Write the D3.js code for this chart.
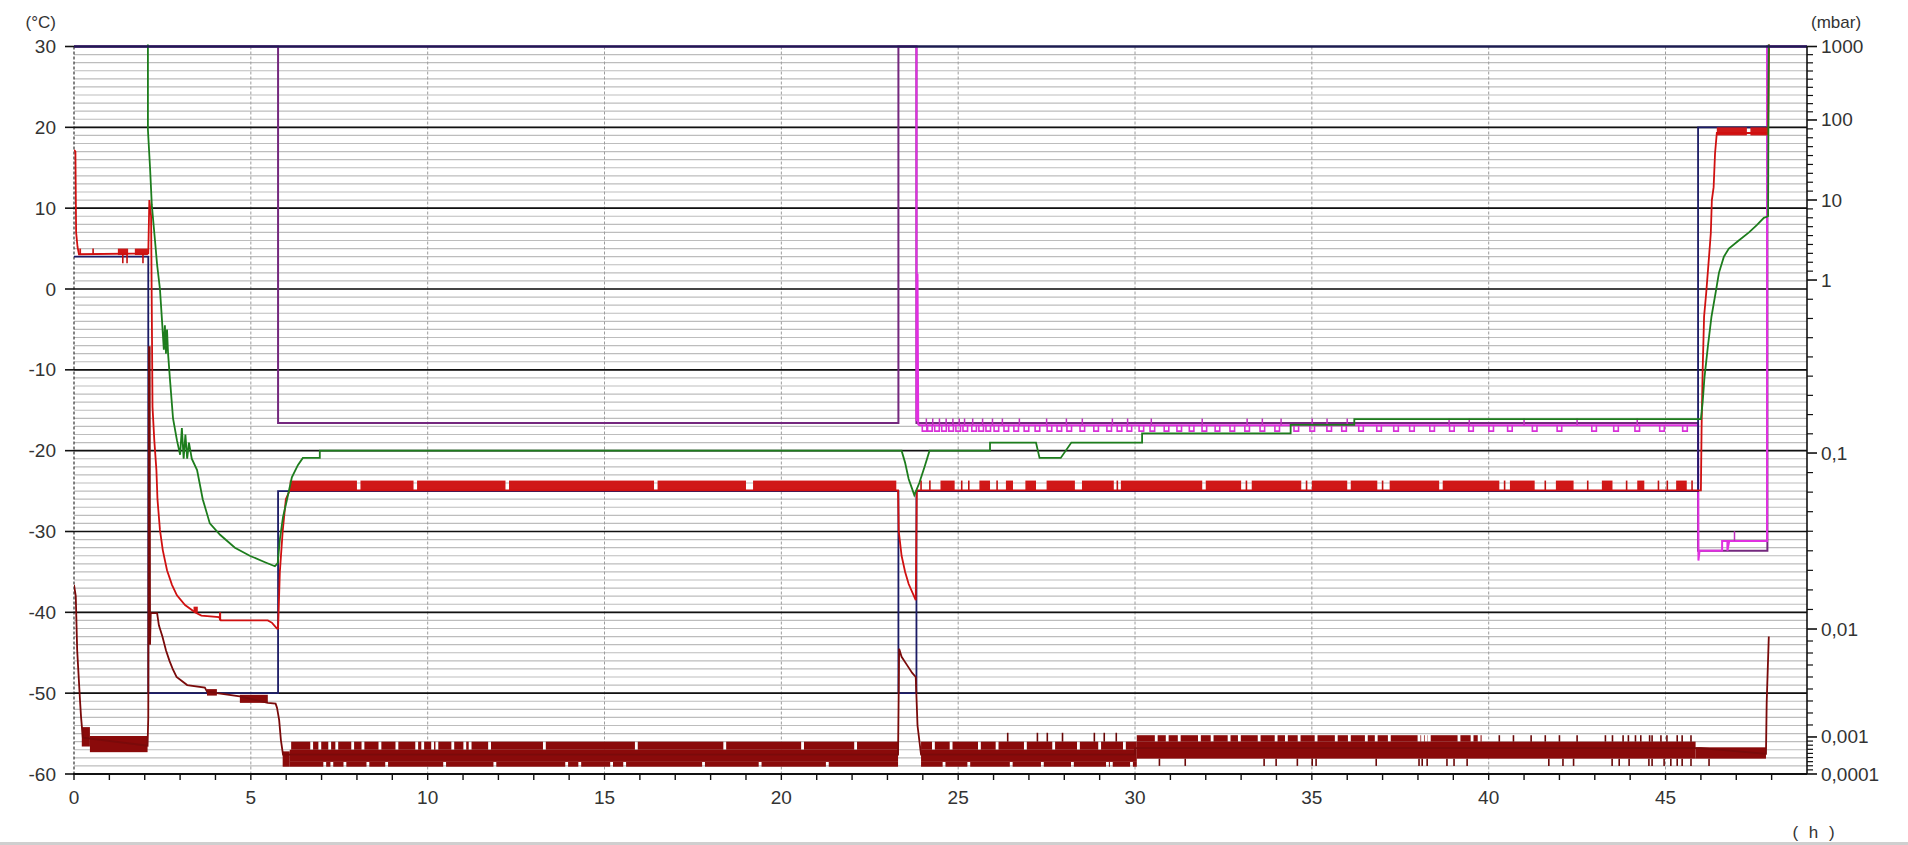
<!DOCTYPE html>
<html>
<head>
<meta charset="utf-8">
<script src="https://cdn.jsdelivr.net/npm/d3@7"></script>
<style>
  body { margin: 0; background: #ffffff; }
  svg { display: block; }
  text { font-family: "Liberation Sans", Arial, sans-serif; fill: #333; }
</style>
</head>
<body>
<svg id="chart" width="1908" height="845"></svg>
<script>
// ---------- axes ----------
const hourDomain = [0, 49];
const hourTicks = d3.range(0, 49);               // minor tick every hour
const hourLabels = [0, 5, 10, 15, 20, 25, 30, 35, 40, 45];
const tempDomain = [-60, 30];
const tempLabels = [30, 20, 10, 0, -10, -20, -30, -40, -50, -60];
const pressureDecades = [0.0001, 0.001, 0.01, 0.1, 1, 10, 100, 1000];
const pressureLabels = ["0,0001", "0,001", "0,01", "0,1", "1", "10", "100", "1000"];

// ---------- shelf temperature setpoint (°C) ----------
const shelfSetpoint = [
  [0, 4], [2.1, 4], [2.1, -50], [5.77, -50], [5.77, -25], [23.31, -25], [23.31, -50],
  [23.82, -50], [23.82, -25], [45.92, -25], [45.92, 20], [47.92, 20]
];

// ---------- shelf temperature (°C) ----------
const shelfTemp = [
  [0, 17.2], [0.04, 17], [0.06, 7], [0.1, 5.2], [0.14, 4.3], [2.1, 4.4], [2.13, 11], [2.18, 9],
  [2.22, -14.6], [2.27, -18.7], [2.33, -22.4], [2.36, -26], [2.43, -29.8], [2.51, -32.3],
  [2.63, -34.8], [2.77, -36.6], [2.91, -37.9], [3.14, -39.1], [3.42, -40], [3.6, -40.4],
  [4.1, -40.6], [4.15, -41], [5.48, -41], [5.6, -41.3], [5.74, -42], [5.77, -42], [5.82, -35],
  [5.9, -30], [5.99, -26], [6.1, -24.9], [23.3, -24.9], [23.32, -30], [23.4, -33], [23.5, -35],
  [23.6, -36.5], [23.75, -38], [23.8, -38.5], [23.83, -24.9], [46.0, -24.9], [46.02, -17],
  [46.05, -10], [46.09, -3.4], [46.15, -0.5], [46.23, 4], [46.28, 6.9], [46.31, 11],
  [46.36, 12.6], [46.4, 16.8], [46.45, 19.3], [47.9, 19.3], [47.93, 31]
];
// fast controller oscillation of the shelf temperature: [from h, to h, low °C, high °C]
const shelfNoise = [
  [0.15, 0.2, 4.2, 5.0], [1.24, 1.53, 4.2, 5.0], [1.72, 2.09, 4.2, 5.0], [3.38, 3.5, -40, -39.3],
  [4.1, 4.16, -41, -40],
  [6.1, 8.0, -24.9, -23.7], [8.1, 9.6, -24.9, -23.7], [9.7, 12.2, -24.9, -23.7],
  [12.3, 16.4, -24.9, -23.7], [16.5, 19.0, -24.9, -23.7], [19.2, 23.25, -24.9, -23.7],
  [24.5, 24.9, -24.9, -23.7], [25.6, 25.9, -24.9, -23.7], [26.35, 26.55, -24.9, -23.7],
  [26.9, 27.2, -24.9, -23.7], [27.5, 28.3, -24.9, -23.7], [28.5, 29.4, -24.9, -23.7],
  [29.6, 31.9, -24.9, -23.7], [32.0, 33.0, -24.9, -23.7], [33.3, 34.7, -24.9, -23.7],
  [35.0, 36.0, -24.9, -23.7], [36.1, 36.85, -24.9, -23.7], [37.2, 38.6, -24.9, -23.7],
  [38.7, 40.3, -24.9, -23.7], [40.6, 41.3, -24.9, -23.7], [41.9, 42.4, -24.9, -23.7],
  [43.2, 43.5, -24.9, -23.7], [44.2, 44.4, -24.9, -23.7], [45.3, 45.6, -24.9, -23.7],
  [46.45, 47.3, 19.0, 20.0], [47.4, 47.9, 19.0, 20.0]
];
// single oscillation spikes of the shelf temperature: [h, °C]
const shelfSpikes = [
  [0.54, 5.0], [1.38, 3.2], [1.5, 3.2], [1.95, 3.2], [23.95, -23.7], [24.2, -23.7],
  [25.1, -23.7], [25.3, -23.7], [26.1, -23.7], [29.5, -23.7], [33.15, -23.7], [34.85, -23.7],
  [37.0, -23.7], [40.45, -23.7], [41.6, -23.7], [42.8, -23.7], [43.9, -23.7], [44.8, -23.7],
  [45.05, -23.7], [45.75, -23.7]
];

// ---------- product temperature (°C) ----------
const productTemp = [
  [2.09, 34], [2.09, 19.7], [2.15, 15], [2.2, 10.4], [2.29, 6], [2.35, 3], [2.43, 0],
  [2.49, -4], [2.54, -7.5], [2.57, -4.5], [2.6, -8], [2.63, -5], [2.66, -8], [2.71, -11],
  [2.8, -16], [2.91, -18.7], [3.0, -20.5], [3.05, -17.2], [3.1, -21], [3.15, -18], [3.2, -21],
  [3.25, -19], [3.33, -21], [3.48, -22.4], [3.64, -26], [3.84, -29], [4.13, -30.4],
  [4.55, -32], [4.97, -33], [5.4, -33.8], [5.68, -34.3], [5.76, -33.9], [5.82, -31],
  [5.91, -28.2], [6.02, -26.1], [6.16, -23.3], [6.33, -21.8], [6.47, -20.9], [6.95, -20.9],
  [6.95, -20], [23.4, -20], [23.5, -21.5], [23.6, -23.5], [23.76, -25.5], [23.9, -24],
  [24.05, -22], [24.19, -20], [25.9, -20], [25.9, -19], [27.2, -19], [27.3, -20.9],
  [27.9, -20.9], [28.2, -19], [30.2, -19], [30.2, -17.85], [34.4, -17.85], [34.4, -16.8],
  [36.2, -16.8], [36.2, -16.1], [46.0, -16.1], [46.05, -14], [46.1, -11], [46.2, -7],
  [46.3, -3.4], [46.43, -0.1], [46.51, 2], [46.65, 4], [46.79, 5], [47.07, 6], [47.36, 7],
  [47.58, 7.9], [47.78, 8.8], [47.9, 9], [47.92, 35]
];

// ---------- ice condenser temperature (°C) ----------
const condenserTemp = [
  [0, -36.6], [0.05, -38], [0.09, -44.7], [0.17, -50.9], [0.2, -53], [0.25, -55.5],
  [2.08, -56.5], [2.1, -53], [2.12, -7.2], [2.14, -7.2], [2.15, -44], [2.17, -40.1],
  [2.35, -40.1], [2.4, -41.6], [2.5, -43], [2.6, -44.7], [2.7, -46], [2.8, -47.1], [2.9, -48],
  [3.2, -49], [3.7, -49.3], [3.76, -49.8], [4.04, -50], [4.69, -50.4], [5.48, -51.2],
  [5.7, -51.3], [5.74, -51.8], [5.8, -53.3], [5.85, -55.8], [5.91, -57.6], [23.3, -57.6],
  [23.33, -44.5], [23.4, -45.5], [23.55, -46.5], [23.7, -47.5], [23.8, -48], [23.85, -54],
  [23.95, -57.6], [30, -57.6], [30, -56.8], [46, -56.8], [47.84, -57.5], [47.86, -51.2],
  [47.92, -43]
];
// solid oscillation bands: [from h, to h, low °C, high °C]
const condenserBands = [
  [0.22, 0.45, -56.6, -54.2], [0.45, 2.08, -57.3, -55.3], [3.76, 4.04, -50.3, -49.5],
  [4.69, 5.48, -51.2, -50.2], [5.9, 6.1, -59.1, -57.2], [6.1, 23.3, -58.5, -57],
  [23.95, 30.05, -58.5, -57], [30.05, 45.85, -58.1, -56.0], [45.85, 47.84, -58.1, -56.7]
];
// outer layers of the band with the hours where the layer is broken
const condenserLayers = [
  { from: 6.1, to: 23.3, low: -57, high: -56,
    gaps: [6.1, 6.72, 6.95, 7.23, 7.43, 7.88, 8.17, 8.65, 9.13, 9.69, 9.86, 10.14, 10.26, 10.71, 11.05, 11.2, 11.75, 13.3, 15.9, 18.4, 20.6, 22.1] },
  { from: 6.1, to: 23.3, low: -59.1, high: -58.5,
    gaps: [7.09, 7.29, 7.66, 8.31, 8.84, 10.48, 11.9, 13.93, 14.3, 15.2, 15.57, 17.8, 19.4, 21.3] },
  { from: 23.95, to: 30.05, low: -57, high: -56,
    gaps: [24.3, 24.8, 25.6, 26.1, 26.9, 27.7, 28.4, 29.0, 29.7] },
  { from: 23.95, to: 30.05, low: -59.1, high: -58.5,
    gaps: [24.6, 25.3, 26.5, 27.38, 28.23, 29.22, 29.33, 29.9] },
  { from: 30.05, to: 39.8, low: -56, high: -55.2,
    gaps: [30.6, 30.91, 31.25, 31.82, 32.18, 32.66, 32.95, 33.51, 33.99, 34.28, 34.64, 35.12, 35.69, 36.06, 36.54, 36.82, 37.19, 38.03, 38.13, 38.23, 38.32, 39.16, 39.53, 39.73] }
];
// single spikes out of the band: [h, °C]
const condenserSpikes = [
  [26.4, -54.9], [27.24, -54.9], [27.52, -54.9], [27.95, -54.9], [28.85, -54.9], [29.13, -54.9], [29.47, -54.9],
  [30.69, -59], [31.42, -59], [33.65, -59], [33.99, -59], [34.59, -59], [35.01, -59], [35.12, -59],
  [36.82, -59], [38.03, -59], [38.12, -59], [38.26, -59], [38.82, -59], [39.02, -59], [39.39, -59],
  [40.3, -55.2], [40.7, -55.2], [41.2, -55.2], [41.6, -55.2], [42.0, -55.2], [42.5, -55.2], [43.3, -55.2], [43.5, -55.2],
  [43.8, -55.2], [43.95, -55.2], [44.15, -55.2], [44.3, -55.2], [44.55, -55.2], [44.62, -55.2],
  [44.87, -55.2], [45.04, -55.2], [45.33, -55.2], [45.47, -55.2], [45.72, -55.2],
  [41.7, -59], [42.1, -59], [42.4, -59], [43.49, -59], [43.69, -59], [43.97, -59], [44.53, -59], [44.62, -59],
  [44.96, -59], [45.15, -59], [45.33, -59], [45.47, -59], [45.72, -59], [46.23, -59]
];

// ---------- chamber pressure setpoint (mbar) ----------
const vacuumSetpoint = [
  [0, 1000], [5.77, 1000], [5.77, 0.256], [23.31, 0.256], [23.31, 1000], [23.82, 1000],
  [23.82, 0.256], [45.92, 0.256], [45.92, 0.05], [47.88, 0.05], [47.88, 1000], [49, 1000]
];

// ---------- chamber pressure, measured (mbar) ----------
const vacuum = [
  [0, 1000], [23.82, 1000], [23.82, 0.27], [23.84, 0.27], [23.85, 1.7], [23.87, 0.25],
  [23.9, 0.245], [45.92, 0.245], [45.93, 0.045], [45.96, 0.05], [46.6, 0.05], [46.6, 0.055],
  [46.75, 0.055], [46.75, 0.05], [46.8, 0.055], [47.87, 0.055], [47.87, 1000], [49, 1000]
];
// hours of the short pressure dips of the controller
const vacuumDips = [
  24.05, 24.2, 24.4, 24.6, 24.8, 25.0, 25.2, 25.45, 25.65, 25.85, 26.08, 26.36, 26.64, 26.93,
  27.24, 27.58, 27.86, 28.14, 28.51, 28.9, 29.27, 29.56, 29.84, 30.18, 30.49, 30.89, 31.25,
  31.6, 31.96, 32.33, 32.75, 33.17, 33.6, 34.02, 34.56, 35.01, 35.49, 35.91, 36.39, 36.9,
  37.38, 37.83, 38.4, 38.96, 39.5, 40.07, 40.6, 41.3, 42.0, 42.98, 43.6, 44.2, 44.9, 45.55
];
// hours of the short pressure peaks of the controller
const vacuumPeaks = [
  24.1, 24.28, 24.47, 24.66, 24.85, 25.03, 25.18, 25.41, 25.69, 25.97, 26.25, 26.73, 27.5,
  28.06, 28.51, 29.36, 29.79, 30.46, 31.9, 33.17, 33.6, 34.13, 35.01, 35.43, 36.0, 38.88,
  39.45, 41.0, 42.5, 44.2, 46.95
];
const vacuumBaseLevel = 0.245;
const vacuumDipLevel = 0.214;
const vacuumPeakLevel = 0.28;

// ---------- layout ----------
const W = 1908, H = 845;
const plotLeft = 74, plotRight = 1807, plotTop = 46.5, plotBottom = 774;
const svg = d3.select("#chart");

const x = d3.scaleLinear().domain(hourDomain).range([plotLeft, plotRight]);
const yT = d3.scaleLinear().domain(tempDomain).range([plotBottom, plotTop]);
// pressure axis: linear inside each decade, decades unevenly spaced
const decadeFrac = [1, 0.9491, 0.8007, 0.5588, 0.3210, 0.2110, 0.1010, 0];
const yP = d3.scaleLinear().domain(pressureDecades)
  .range(decadeFrac.map(f => plotTop + f * (plotBottom - plotTop)));

svg.append("defs").append("clipPath").attr("id", "plot")
  .append("rect").attr("x", plotLeft).attr("y", plotTop - 2)
  .attr("width", plotRight - plotLeft).attr("height", plotBottom - plotTop + 2);

// ---------- grid ----------
const grid = svg.append("g");
d3.range(-60, 31).forEach(t => {
  grid.append("line").attr("x1", plotLeft).attr("x2", plotRight).attr("y1", yT(t)).attr("y2", yT(t))
    .attr("stroke", "#bdbdbd").attr("stroke-width", 1.2);
});
hourLabels.filter(h => h > 0).forEach(h => {
  grid.append("line").attr("x1", x(h)).attr("x2", x(h)).attr("y1", plotTop).attr("y2", plotBottom)
    .attr("stroke", "#9c9c9c").attr("stroke-width", 1).attr("stroke-dasharray", "3,2");
});
grid.append("line").attr("x1", plotLeft).attr("x2", plotLeft).attr("y1", plotTop).attr("y2", plotBottom)
  .attr("stroke", "#333").attr("stroke-width", 1.2).attr("stroke-dasharray", "3,2");
tempLabels.filter(t => t > -60 && t < 30).forEach(t => {
  grid.append("line").attr("x1", plotLeft).attr("x2", plotRight).attr("y1", yT(t)).attr("y2", yT(t))
    .attr("stroke", "#111").attr("stroke-width", 1.7);
});

// ---------- marks ----------
const plot = svg.append("g").attr("clip-path", "url(#plot)");
const lineT = d3.line().x(d => x(d[0])).y(d => yT(d[1]));
const lineP = d3.line().x(d => x(d[0])).y(d => yP(d[1]));

function path(data, gen, color, width) {
  plot.append("path").datum(data).attr("d", gen).attr("fill", "none")
    .attr("stroke", color).attr("stroke-width", width).attr("stroke-linejoin", "miter");
}
function bands(list, color) {
  plot.selectAll(null).data(list).enter().append("rect")
    .attr("x", d => x(d[0])).attr("width", d => x(d[1]) - x(d[0]))
    .attr("y", d => yT(d[3])).attr("height", d => yT(d[2]) - yT(d[3]))
    .attr("fill", color);
}
function spikes(list, base, color) {
  plot.selectAll(null).data(list).enter().append("line")
    .attr("x1", d => x(d[0])).attr("x2", d => x(d[0]))
    .attr("y1", d => yT(base(d))).attr("y2", d => yT(d[1]))
    .attr("stroke", color).attr("stroke-width", 1.6);
}
function splitByGaps(from, to, gaps, width) {
  const segs = [];
  let start = from;
  gaps.slice().sort((a, b) => a - b).forEach(g => {
    if (g - width / 2 > start) segs.push([start, g - width / 2]);
    start = Math.max(start, g + width / 2);
  });
  if (start < to) segs.push([start, to]);
  return segs;
}

// pressure setpoint and measured pressure
path(vacuumSetpoint, lineP, "#74287e", 2);
path(vacuum, lineP, "#e030e0", 2);
const dipW = 0.13;
plot.selectAll(null).data(vacuumDips).enter().append("path")
  .attr("d", h => `M${x(h - dipW / 2)},${yP(vacuumBaseLevel)}V${yP(vacuumDipLevel)}H${x(h + dipW / 2)}V${yP(vacuumBaseLevel)}`)
  .attr("fill", "none").attr("stroke", "#d830d8").attr("stroke-width", 1.6);
plot.selectAll(null).data(vacuumPeaks).enter().append("line")
  .attr("x1", h => x(h)).attr("x2", h => x(h))
  .attr("y1", h => yP(h > 46 ? 0.055 : vacuumBaseLevel)).attr("y2", h => yP(h > 46 ? 0.06 : vacuumPeakLevel))
  .attr("stroke", "#c030c0").attr("stroke-width", 1.5);

// shelf setpoint
path(shelfSetpoint, lineT, "#1b1b66", 1.8);

// shelf temperature
bands(shelfNoise, "#d01818");
spikes(shelfSpikes, d => d[1] > -24 && d[1] < -23 ? -24.9 : 4.3, "#c01010");
path(shelfTemp, lineT, "#d01010", 1.8);

// product temperature
path(productTemp, lineT, "#1d7d1d", 1.8);

// ice condenser
bands(condenserBands, "#8a0a0a");
condenserLayers.forEach(layer => {
  const segs = splitByGaps(layer.from, layer.to, layer.gaps, 0.08);
  bands(segs.map(s => [s[0], s[1], layer.low, layer.high]), "#8a0a0a");
});
spikes(condenserSpikes, d => d[1] < -58.5 ? -58.1 : -56, "#6a0808");
path(condenserTemp, lineT, "#7a0a0a", 1.8);

// ---------- frame and axes ----------
const axes = svg.append("g");
axes.append("line").attr("x1", plotLeft).attr("x2", plotRight).attr("y1", plotTop).attr("y2", plotTop)
  .attr("stroke", "#1c1c50").attr("stroke-width", 2.6);
axes.append("line").attr("x1", plotLeft - 1).attr("x2", plotRight).attr("y1", plotBottom).attr("y2", plotBottom)
  .attr("stroke", "#111").attr("stroke-width", 2);
axes.append("line").attr("x1", plotRight).attr("x2", plotRight).attr("y1", plotTop).attr("y2", plotBottom)
  .attr("stroke", "#111").attr("stroke-width", 1.6);

// bottom axis
axes.selectAll(null).data(hourTicks).enter().append("line")
  .attr("x1", h => x(h)).attr("x2", h => x(h)).attr("y1", plotBottom).attr("y2", plotBottom + 6)
  .attr("stroke", "#111").attr("stroke-width", 1.4);
axes.selectAll(null).data(hourLabels).enter().append("text")
  .attr("x", h => x(h)).attr("y", 804).attr("text-anchor", "middle")
  .attr("font-size", 19).text(h => h);

// left axis
axes.selectAll(null).data(tempLabels).enter().append("line")
  .attr("x1", plotLeft - 9).attr("x2", plotLeft).attr("y1", t => yT(t)).attr("y2", t => yT(t))
  .attr("stroke", "#111").attr("stroke-width", 1.6);
axes.selectAll(null).data(tempLabels).enter().append("text")
  .attr("x", 56).attr("y", t => yT(t) + 6.5).attr("text-anchor", "end")
  .attr("font-size", 19).text(t => t);

// right axis (pressure)
const minorP = [];
pressureDecades.slice(0, -1).forEach(d => d3.range(2, 10).forEach(m => minorP.push(d * m)));
axes.selectAll(null).data(minorP).enter().append("line")
  .attr("x1", plotRight).attr("x2", plotRight + 6).attr("y1", p => yP(p)).attr("y2", p => yP(p))
  .attr("stroke", "#111").attr("stroke-width", 1.2);
axes.selectAll(null).data(pressureDecades).enter().append("line")
  .attr("x1", plotRight).attr("x2", plotRight + 10).attr("y1", p => yP(p)).attr("y2", p => yP(p))
  .attr("stroke", "#111").attr("stroke-width", 1.6);
axes.selectAll(null).data(pressureDecades).enter().append("text")
  .attr("x", 1821).attr("y", p => yP(p) + 6.5).attr("text-anchor", "start")
  .attr("font-size", 19).text((p, i) => pressureLabels[i]);

// units
axes.append("text").attr("x", 56).attr("y", 28).attr("text-anchor", "end").attr("font-size", 17).text("(°C)");
axes.append("text").attr("x", 1811).attr("y", 28).attr("text-anchor", "start").attr("font-size", 17).text("(mbar)");
axes.append("text").attr("x", 1815).attr("y", 838).attr("text-anchor", "middle").attr("font-size", 17)
  .attr("letter-spacing", 3).text("( h )");

// window edge at the bottom
svg.append("rect").attr("x", 0).attr("y", 842).attr("width", W).attr("height", 3).attr("fill", "#cfcfcf");
</script>
</body>
</html>
